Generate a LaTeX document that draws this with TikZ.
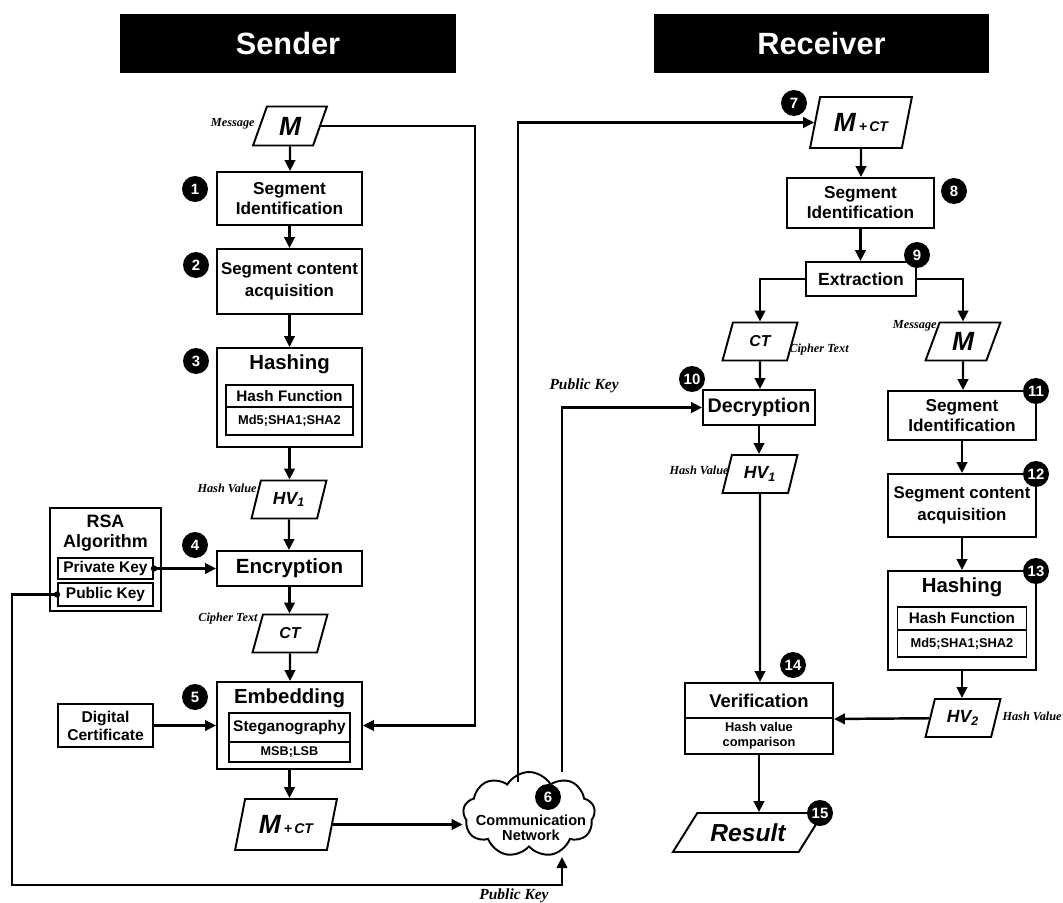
\documentclass[tikz,border=0pt]{standalone}
\usepackage{fontspec}
\setmainfont{Liberation Sans}
\newfontfamily\serifit{Liberation Serif}
\usepackage{tikz}
\usetikzlibrary{shapes.geometric, shapes.symbols, arrows.meta, positioning, calc}

\begin{document}
\begin{tikzpicture}[x=0.02cm, y=-0.02cm,
  box/.style={rectangle, draw, line width=1.1pt, fill=white, align=center, inner sep=1pt, font=\bfseries\fontsize{9.8}{11.4}\selectfont},
  io/.style={trapezium, trapezium left angle=70, trapezium right angle=110, trapezium stretches=true, draw, line width=1.1pt, fill=white, inner sep=0pt, minimum width=1.5cm, minimum height=0.76cm, font=\bfseries\itshape\fontsize{10}{12}\selectfont},
  title/.style={inner sep=0pt, font=\bfseries\fontsize{11.6}{13}\selectfont},
  num/.style={circle, fill=black, text=white, inner sep=0pt, minimum size=0.52cm, font=\bfseries\fontsize{8.5}{9}\selectfont},
  note/.style={inner sep=0pt, font=\serifit\bfseries\itshape\fontsize{7}{8}\selectfont},
  head/.style={rectangle, fill=black, text=white, minimum height=1.18cm, font=\bfseries\fontsize{17.5}{20}\selectfont},
  arrow/.style={-{Triangle[length=0.22cm, width=0.21cm]}, line width=1.4pt}
]
  \useasboundingbox (0,0) rectangle (1063,903);

  % headers
  \node[head, minimum width=6.72cm] (sender) at (288,43.5) {Sender};
  \node[head, minimum width=6.7cm] (receiver) at (821.5,43.5) {Receiver};

  % sender side
  \node[io, minimum width=1.48cm, minimum height=0.78cm, font=\bfseries\itshape\fontsize{15}{15}\selectfont] (msg1) at (290,126) {M};
  \node[note, anchor=east] (msg1lbl) at (255,124) {Message};
  \node[box, minimum width=2.9cm, minimum height=1.06cm] (seg1) at (289.5,198.5) {Segment\\Identification};
  \node[box, minimum width=2.9cm, minimum height=1.3cm, font=\bfseries\fontsize{9.6}{12.5}\selectfont] (acq1) at (289.5,281.5) {Segment content\\acquisition};
  \node[box, minimum width=2.9cm, minimum height=1.98cm] (hash1) at (289.5,397.5) {};
  \node[title] (hash1t) at (289.5,364) {Hashing};
  \node[box, minimum width=2.54cm, minimum height=0.44cm, font=\bfseries\fontsize{8.7}{10}\selectfont] (hf1) at (289.5,396) {Hash Function};
  \node[box, minimum width=2.54cm, minimum height=0.56cm, font=\bfseries\fontsize{7.3}{9}\selectfont] (md1) at (289.5,421) {Md5;SHA1;SHA2};
  \node[io] (hv1) at (289,499.5) {HV\textsubscript{1}};
  \node[note, anchor=east] (hv1lbl) at (257,488) {Hash Value};
  \node[box, minimum width=2.9cm, minimum height=0.7cm, font=\bfseries\fontsize{11.7}{13}\selectfont] (enc) at (289.5,568.5) {Encryption};
  \node[io, font=\bfseries\itshape\fontsize{9}{10}\selectfont] (ct1) at (290,633.5) {CT};
  \node[note, anchor=east] (ct1lbl) at (258,619) {Cipher Text};
  \node[box, minimum width=2.9cm, minimum height=1.74cm] (emb) at (289.5,725.5) {};
  \node[title] (embt) at (289.5,698) {Embedding};
  \node[box, minimum width=2.42cm, minimum height=0.58cm, font=\bfseries\fontsize{8.8}{10}\selectfont] (steg) at (289.5,727.5) {Steganography};
  \node[box, minimum width=2.42cm, minimum height=0.4cm, font=\bfseries\fontsize{7.2}{8}\selectfont] (msb) at (289.5,752) {MSB;LSB};
  \node[io, minimum width=2.04cm, minimum height=1.02cm] (mct1) at (286,824.5) {{\fontsize{15}{15}\selectfont M}\,{\fontsize{8}{8}\selectfont +\,CT}};

  \node[box, minimum width=2.22cm, minimum height=2.06cm] (rsa) at (105.5,559.5) {};
  \node[title, align=center, font=\bfseries\fontsize{10.2}{11.4}\selectfont] (rsat) at (105.5,533) {RSA\\Algorithm};
  \node[box, minimum width=1.9cm, minimum height=0.42cm, font=\bfseries\fontsize{8.8}{10}\selectfont] (prv) at (105.5,568.5) {Private Key};
  \node[box, minimum width=1.9cm, minimum height=0.46cm, font=\bfseries\fontsize{8.8}{10}\selectfont] (pub) at (105.5,594.5) {Public Key};
  \node[box, minimum width=1.9cm, minimum height=0.86cm, font=\bfseries\fontsize{8.9}{10.2}\selectfont] (cert) at (105.5,725.5) {Digital\\Certificate};

  \node[cloud, cloud puffs=9, cloud puff arc=120, aspect=1.6, draw, line width=1.1pt, fill=white, minimum width=2.64cm, minimum height=1.7cm] (net) at (529,814.5) {};
  \node[align=center, inner sep=0pt, font=\bfseries\fontsize{8.3}{8.8}\selectfont] (nett) at (531,828) {Communication\\Network};

  % receiver side
  \node[io, minimum width=2.04cm, minimum height=1.02cm] (mct2) at (861,122.5) {{\fontsize{15}{15}\selectfont M}\,{\fontsize{8}{8}\selectfont +\,CT}};
  \node[box, minimum width=2.94cm, minimum height=1.0cm] (seg2) at (860.5,203) {Segment\\Identification};
  \node[box, minimum width=2.2cm, minimum height=0.68cm, font=\bfseries\fontsize{10}{12}\selectfont] (ext) at (861,279) {Extraction};
  \node[io, font=\bfseries\itshape\fontsize{9}{10}\selectfont] (ct2) at (760,341.5) {CT};
  \node[note, anchor=west] (ct2lbl) at (789,350) {Cipher Text};
  \node[io, font=\bfseries\itshape\fontsize{15}{15}\selectfont] (msg2) at (963,341.5) {M};
  \node[note, anchor=east] (msg2lbl) at (937,326) {Message};
  \node[box, minimum width=2.24cm, minimum height=0.7cm, font=\bfseries\fontsize{11.2}{13}\selectfont] (dec) at (759,407.5) {Decryption};
  \node[io] (hv1r) at (760,474) {HV\textsubscript{1}};
  \node[note, anchor=east] (hv1rlbl) at (729,470) {Hash Value};
  \node[box, minimum width=2.96cm, minimum height=0.98cm] (seg3) at (962,415.5) {Segment\\Identification};
  \node[box, minimum width=2.96cm, minimum height=1.26cm, font=\bfseries\fontsize{9.6}{12.5}\selectfont] (acq2) at (962,505.5) {Segment content\\acquisition};
  \node[box, minimum width=2.96cm, minimum height=1.98cm] (hash2) at (962,620.5) {};
  \node[title] (hash2t) at (962,587) {Hashing};
  \node[box, minimum width=2.58cm, minimum height=0.46cm, font=\bfseries\fontsize{8.7}{10}\selectfont] (hf2) at (962,618.5) {Hash Function};
  \node[box, minimum width=2.58cm, minimum height=0.54cm, font=\bfseries\fontsize{7.3}{9}\selectfont] (md2) at (962,643.5) {Md5;SHA1;SHA2};
  \node[io] (hv2) at (963,718) {HV\textsubscript{2}};
  \node[note, anchor=east] (hv2lbl) at (1062,716) {Hash Value};
  \node[box, minimum width=2.96cm, minimum height=0.7cm, font=\bfseries\fontsize{10.5}{12}\selectfont] (ver) at (759,700.5) {Verification};
  \node[box, minimum width=2.96cm, minimum height=0.72cm, font=\bfseries\fontsize{7.3}{8.5}\selectfont] (cmp) at (759,736) {Hash value\\comparison};
  \node[io, trapezium left angle=45, trapezium right angle=135, minimum width=3.02cm, minimum height=0.78cm, font=\bfseries\itshape\fontsize{14}{16}\selectfont] (res) at (748,832.5) {Result};

  % step numbers
  \node[num] (n1) at (195,189) {1};
  \node[num] (n2) at (196,265) {2};
  \node[num] (n3) at (196,361) {3};
  \node[num] (n4) at (195,545) {4};
  \node[num] (n5) at (195,697) {5};
  \node[num] (n6) at (548,797) {6};
  \node[num] (n7) at (794,103) {7};
  \node[num] (n8) at (954,191) {8};
  \node[num] (n9) at (917,255) {9};
  \node[num] (n10) at (692,379) {10};
  \node[num] (n11) at (1036,391) {11};
  \node[num] (n12) at (1036,474) {12};
  \node[num] (n13) at (1036,571) {13};
  \node[num] (n14) at (793,665) {14};
  \node[num] (n15) at (820,813) {15};

  % bends
  \coordinate (mx) at (475,0);
  \coordinate (up1) at (518,782);
  \coordinate (up2) at (562,772);
  \coordinate (pkx) at (12,885);
  \coordinate (pkin) at (562,857);

  % sender flow
  \draw[arrow] (msg1) -- (msg1 |- seg1.north);
  \draw[arrow] (seg1) -- (seg1 |- acq1.north);
  \draw[arrow] (acq1) -- (acq1 |- hash1.north);
  \draw[arrow] (hash1) -- (hash1 |- hv1.north);
  \draw[arrow] (hv1) -- (hv1 |- enc.north);
  \draw[arrow] (enc) -- (enc |- ct1.north);
  \draw[arrow] (ct1) -- (ct1 |- emb.north);
  \draw[arrow] (emb) -- (emb |- mct1.north);
  \draw[arrow] (msg1.east) -- (msg1.east -| mx) |- (emb.east);
  \draw[arrow] (cert.east) -- (cert.east -| emb.west);
  \draw[arrow] (prv.east) -- (prv.east -| enc.west);
  \fill (prv.east) circle (1.8pt);
  \draw[arrow] (pub.west) -| (pkx) -| (pkin);
  \fill (pub.west) circle (1.8pt);
  \draw[arrow] (mct1.east) -- (mct1.east -| net.west);

  % network to receiver
  \draw[arrow] (up1) |- (mct2.west);
  \draw[arrow] (up2) |- (dec.west);

  % receiver flow
  \draw[arrow] (mct2) -- (mct2 |- seg2.north);
  \draw[arrow] (seg2) -- (seg2 |- ext.north);
  \draw[arrow] (ext.west) -| (ct2);
  \draw[arrow] (ext.east) -| (msg2);
  \draw[arrow] (ct2) -- (ct2 |- dec.north);
  \draw[arrow] (dec) -- (dec |- hv1r.north);
  \draw[arrow] (hv1r) -- (hv1r |- ver.north);
  \draw[arrow] (msg2) -- (msg2 |- seg3.north);
  \draw[arrow] (seg3) -- (seg3 |- acq2.north);
  \draw[arrow] (acq2) -- (acq2 |- hash2.north);
  \draw[arrow] (hash2) -- (hash2 |- hv2.north);
  \draw[arrow] (hv2) -- (ver.south east);
  \draw[arrow] (cmp) -- (cmp |- res.north);

  % key labels
  \node[note, font=\serifit\bfseries\itshape\fontsize{8.8}{10}\selectfont] (pklbl1) at (514,896) {Public Key};
  \node[note, anchor=east, font=\serifit\bfseries\itshape\fontsize{8.8}{10}\selectfont] (pklbl2) at (619,386) {Public Key};
\end{tikzpicture}
\end{document}
